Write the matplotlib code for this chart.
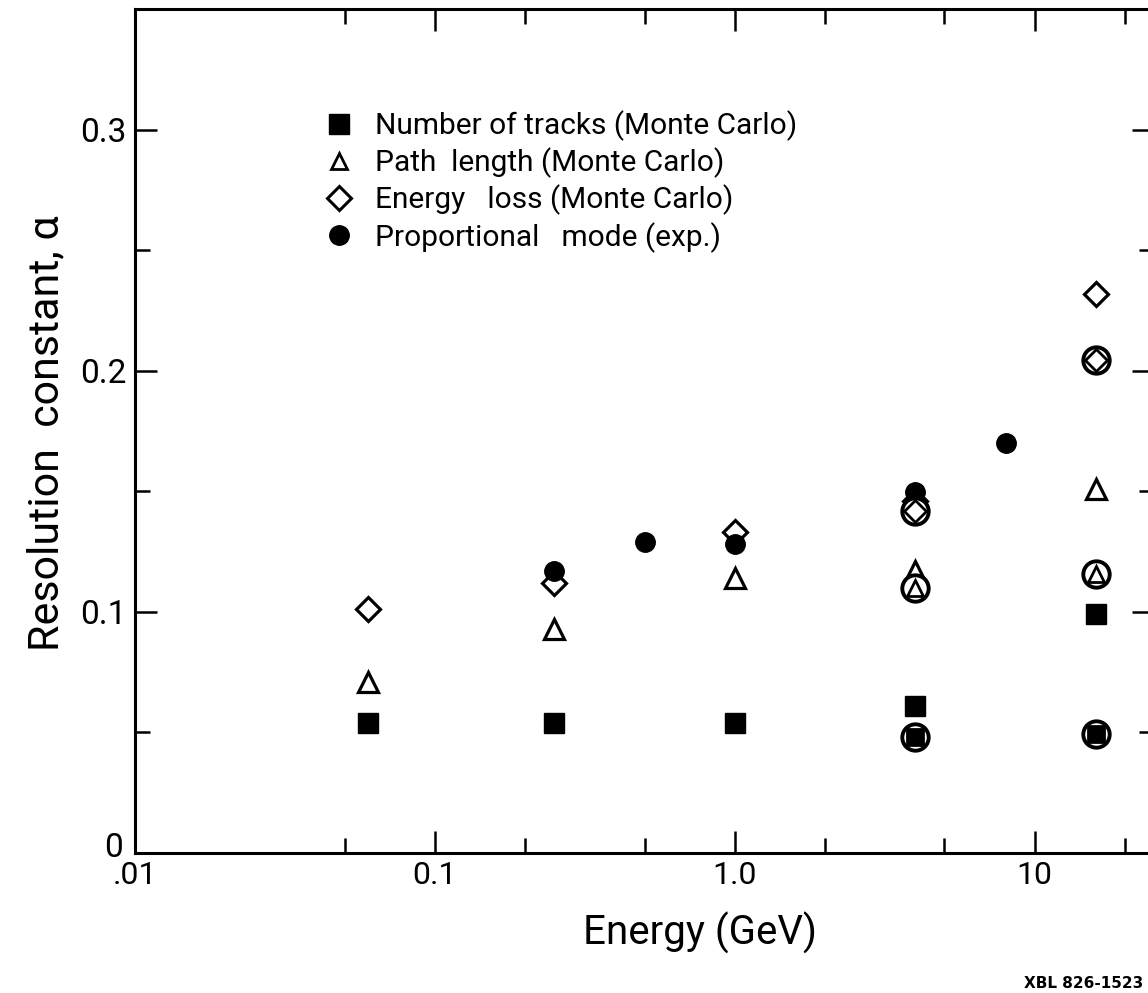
import matplotlib
matplotlib.use("Agg")
import matplotlib.pyplot as plt
from matplotlib.lines import Line2D
from matplotlib.transforms import ScaledTranslation

plt.rcParams['font.family'] = ['Roboto', 'DejaVu Sans']

# ---- data ----
energy_tracks = [0.06, 0.25, 1.0, 4.0, 16.0]
alpha_tracks = [0.054, 0.054, 0.054, 0.061, 0.099]

energy_path = [0.06, 0.25, 1.0, 4.0, 16.0]
alpha_path = [0.071, 0.093, 0.114, 0.117, 0.151]

energy_eloss = [0.06, 0.25, 1.0, 4.0, 16.0]
alpha_eloss = [0.101, 0.112, 0.133, 0.146, 0.232]

energy_prop = [0.25, 0.5, 1.0, 4.0, 8.0]
alpha_prop = [0.117, 0.129, 0.128, 0.1495, 0.170]

# circled points
energy_tracks_c = [4.0, 16.0]
alpha_tracks_c = [0.048, 0.0495]
energy_path_c = [4.0, 16.0]
alpha_path_c = [0.110, 0.1155]
energy_eloss_c = [4.0, 16.0]
alpha_eloss_c = [0.142, 0.2045]

labels = ["Number of tracks (Monte Carlo)",
          "Path  length (Monte Carlo)",
          "Energy   loss (Monte Carlo)",
          "Proportional   mode (exp.)"]

x_major = [0.01, 0.1, 1.0, 10.0]
x_major_labels = [".01", "0.1", "1.0", "10"]
x_minor = [0.05, 0.2, 0.5, 2.0, 5.0, 20.0]
y_major = [0.0, 0.1, 0.2, 0.3]
y_major_labels = ["0", "0.1", "0.2", "0.3"]
y_minor = [0.05, 0.15, 0.25]

# ---- figure ----
fig = plt.figure(figsize=(11.48, 9.93), dpi=100)
ax = fig.add_axes([0.1176, 0.141, 0.8877, 0.850])
ax.set_xscale('log')
ax.set_xlim(0.01, 25)
ax.set_ylim(0, 0.35)

mew = 2.3
# main series
ax.plot(energy_eloss, alpha_eloss, linestyle='none', marker='D', ms=12.5,
        mfc='white', mec='black', mew=mew, zorder=3)
ax.plot(energy_path, alpha_path, linestyle='none', marker='^', ms=14,
        mfc='white', mec='black', mew=mew, zorder=3)
ax.plot(energy_tracks, alpha_tracks, linestyle='none', marker='s', ms=14,
        mfc='black', mec='black', mew=1, zorder=3)
ax.plot(energy_prop, alpha_prop, linestyle='none', marker='o', ms=14,
        mfc='black', mec='black', mew=1, zorder=4)

# circled series
for ex, ay, mk, ms, fill in [(energy_tracks_c, alpha_tracks_c, 's', 11, 'black'),
                              (energy_path_c, alpha_path_c, '^', 12, 'white'),
                              (energy_eloss_c, alpha_eloss_c, 'D', 11, 'white')]:
    ax.plot(ex, ay, linestyle='none', marker='o', ms=19, mfc='white',
            mec='black', mew=2.8, zorder=5)
    ax.plot(ex, ay, linestyle='none', marker=mk, ms=ms, mfc=fill,
            mec='black', mew=2.0, zorder=6)

# ticks
ax.set_xticks(x_major)
ax.set_xticklabels(x_major_labels)
ax.set_xticks(x_minor, minor=True)
ax.set_xticklabels([], minor=True)
ax.set_yticks(y_major)
ax.set_yticklabels(y_major_labels)
ax.set_yticks(y_minor, minor=True)
ax.tick_params(which='both', direction='in', top=True, right=True,
               width=1.8, colors='black')
ax.tick_params(axis='y', which='major', labelsize=24)
ax.tick_params(axis='x', which='major', labelsize=23)
ax.tick_params(which='major', length=16, pad=6)
ax.tick_params(which='minor', length=11)
for s in ax.spines.values():
    s.set_linewidth(2.2)

# lift the "0" of the y axis a little so it does not touch ".01"
fig.canvas.draw()
ylab0 = ax.get_yticklabels()[0]
ylab0.set_transform(ylab0.get_transform() +
                    ScaledTranslation(-3 / 72, 6 / 72, fig.dpi_scale_trans))

ax.set_xlabel("Energy (GeV)", fontsize=29)
ax.xaxis.set_label_coords(0.554, -0.070)
ax.set_ylabel("Resolution  constant, α", fontsize=31)
ax.yaxis.set_label_coords(-0.066, 0.497)

handles = [
    Line2D([], [], linestyle='none', marker='s', ms=14, mfc='black', mec='black'),
    Line2D([], [], linestyle='none', marker='^', ms=12, mfc='white', mec='black', mew=2),
    Line2D([], [], linestyle='none', marker='D', ms=12, mfc='white', mec='black', mew=2.2),
    Line2D([], [], linestyle='none', marker='o', ms=14, mfc='black', mec='black'),
]
ax.legend(handles, labels, loc='upper left', bbox_to_anchor=(0.186, 0.880),
          frameon=False, fontsize=21.5, handlelength=1.0, handletextpad=0.7,
          labelspacing=0.22, borderpad=0, borderaxespad=0)

fig.text(1143 / 1148, 1 - 984 / 993, "XBL 826-1523", fontsize=11,
         fontweight='bold', ha='right', va='center', family='DejaVu Sans')

fig.savefig("out.png", dpi=100)
